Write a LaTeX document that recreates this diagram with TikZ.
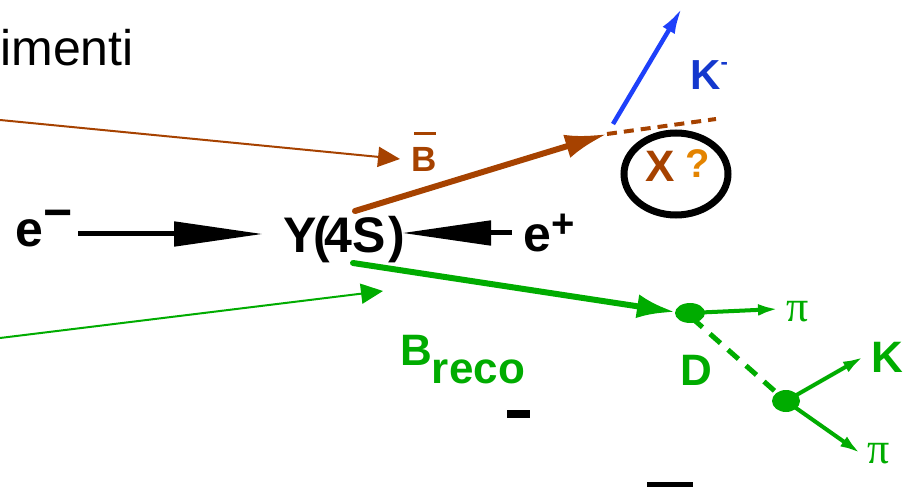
\documentclass[tikz,border=0pt]{standalone}
\usepackage{fontspec}
\setmainfont{Liberation Sans}
\newfontfamily\pifont{Liberation Serif}
\usetikzlibrary{arrows.meta}
\definecolor{bbrown}{RGB}{166,66,0}
\definecolor{bgreen}{RGB}{0,172,0}
\definecolor{kblue}{RGB}{30,64,250}
\definecolor{klabel}{RGB}{20,56,205}
\definecolor{qorange}{RGB}{228,132,0}
\newcommand{\fsz}[1]{\fontsize{#1}{#1}\selectfont}
\newcommand{\barB}{\makebox[0pt][l]{\hspace{3pt}\raisebox{37pt}{\rule{22pt}{3pt}}}B}

\begin{document}
\begin{tikzpicture}[x=1pt,y=-1pt,
  every node/.style={inner sep=0pt, font=\fsz{50}\bfseries},
  lbl/.style={anchor=base west},
  beam/.style={line width=5pt, -{Triangle[length=89pt,width=24pt]}},
  thinarr/.style={line width=2pt, -{Triangle[length=22pt,width=20pt]}},
  track/.style={line width=6pt, line cap=round, -{Latex[length=42pt,width=24pt]}},
  daughter/.style={line width=4pt, color=bgreen, -{Latex[length=20pt,width=12pt]}},
  vtx/.style={fill=bgreen}
]
  \useasboundingbox (0,0) rectangle (911,489);

  % Labels
  \node[anchor=base east, font=\fsz{50}] (caption) at (134,66) {imenti};
  \node[lbl] (eminus) at (15,247) {e\raisebox{17pt}{−}};
  \node[lbl] (ups)    at (283,253) {Y\kern-3pt(\kern-6pt4S\kern3pt)};
  \node[lbl] (eplus)  at (523,252) {e\raisebox{14pt}{\fsz{40}+}};
  \node[lbl, font=\fsz{35}\bfseries, text=bbrown] (bbar) at (411,172) {\barB};
  \node[lbl, font=\fsz{42}\bfseries, text=klabel] (kminus) at (690,90) {K\raisebox{20pt}{\fsz{22}-}};
  \node[lbl, font=\fsz{44}\bfseries, text=bbrown] (xlbl) at (645,182) {X};
  \node[lbl, font=\fsz{40}\bfseries, text=qorange] (qlbl) at (685,178) {?};
  \node[lbl, font=\fsz{44}\bfseries, text=bgreen] (breco) at (400,365) {B\raisebox{-18pt}{reco}};
  \node[lbl, font=\fsz{44}\bfseries, text=bgreen] (dlbl) at (680,385) {D};
  \node[lbl, font=\fsz{44}\bfseries, text=bgreen] (klbl) at (871,372) {K};
  \node[lbl, font=\fsz{44}\pifont, text=bgreen] (piup) at (786,322) {π};
  \node[lbl, font=\fsz{44}\pifont, text=bgreen] (pilow) at (867,463) {π};

  % Vertices and ends
  \coordinate (beamL)  at (78,234);
  \coordinate (beamLt) at (263,234);
  \coordinate (beamR)  at (512,233);
  \coordinate (beamRt) at (402,233);
  \coordinate (ybrown) at (355,211);
  \coordinate (ygreen) at (353,263);
  \coordinate (bvtx)   at (607,134);
  \coordinate (xend)   at (716,119);
  \coordinate (kmend)  at (682,8);
  \coordinate (dvtx)   at (690,313);
  \coordinate (kpivtx) at (786,401);
  \coordinate (edgeB)  at (0,120);
  \coordinate (edgeG)  at (0,338);
  \coordinate (tipB)   at (400,159);
  \coordinate (tipG)   at (383,291);

  % Beams
  \draw[beam] (beamL) -- (beamLt);
  \draw[beam] (beamR) -- (beamRt);

  % Tag side
  \draw[track, color=bbrown] (ybrown) -- (bvtx);
  \draw[bbrown, line width=4pt, dash pattern=on 10pt off 7pt] (bvtx) -- (xend);
  \draw[kblue, line width=4.5pt, -{Latex[length=26pt,width=14pt]}] (613,124) -- (kmend);
  \draw[line width=7pt] (676,174) ellipse [x radius=52, y radius=41];

  % Reco side
  \draw[track, color=bgreen, -{Latex[length=38pt,width=24pt]}] (ygreen) -- (675,312);
  \fill[vtx] (dvtx) ellipse [x radius=15, y radius=10];
  \draw[daughter] (dvtx) -- (778,309);
  \draw[bgreen, line width=5pt, dash pattern=on 14pt off 10pt] (692,318) -- (kpivtx);
  \fill[vtx] (kpivtx) ellipse [x radius=14, y radius=11];
  \draw[daughter] (kpivtx) -- (863,357);
  \draw[daughter] (kpivtx) -- (860,453);

  % Pointers from the left
  \draw[thinarr, color=bbrown] (edgeB) -- (tipB);
  \draw[thinarr, color=bgreen] (edgeG) -- (tipG);

  % Stray bars
  \fill (507,410) rectangle (530,418);
  \fill (647,482) rectangle (693,487);
\end{tikzpicture}
\end{document}
